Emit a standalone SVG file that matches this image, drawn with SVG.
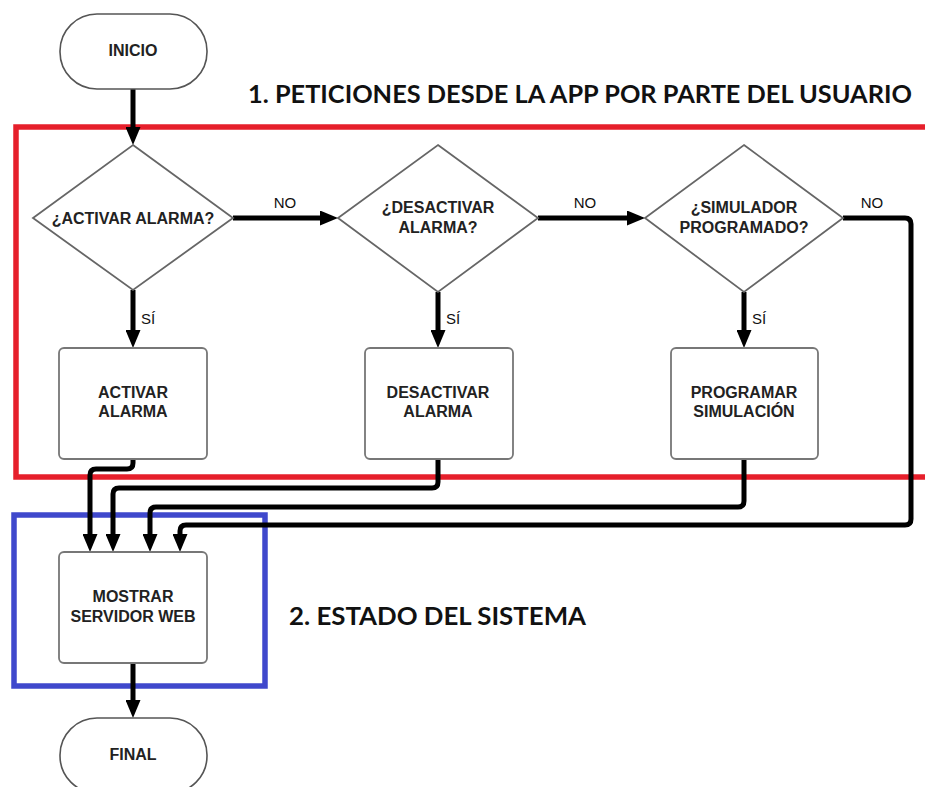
<svg xmlns="http://www.w3.org/2000/svg" width="925" height="787" viewBox="0 0 925 787">
<style>
.term{fill:#fff;stroke:#555;stroke-width:1.6}
.dec{fill:#fff;stroke:#666;stroke-width:1.8}
.proc{fill:#fff;stroke:#777;stroke-width:1.8}
.lbl{font-family:"Liberation Sans",Arial,sans-serif;font-weight:bold;font-size:16px;fill:#222;text-anchor:middle}
.edge{font-family:"Liberation Sans",Arial,sans-serif;font-size:15px;fill:#111}
.conn path{fill:none;stroke:#000;stroke-width:5}
.title{font-family:Lato,"Open Sans",sans-serif;font-weight:bold;font-size:25px;fill:#111}
</style>
<defs>
<marker id="ah" markerUnits="userSpaceOnUse" markerWidth="18" markerHeight="15" viewBox="0 0 18 15" refX="4" refY="7.5" orient="auto">
<path d="M0,0 L18,7.5 L0,15 z" fill="#000"/>
</marker>
</defs>
<rect width="925" height="787" fill="#fff"/>
<g id="frames">
<rect x="16" y="127" width="920" height="350" fill="none" stroke="#e61f2b" stroke-width="5.5"/>
<rect x="14" y="515" width="251" height="171" fill="none" stroke="#3f48cc" stroke-width="5.5"/>
</g>
<g class="conn" id="connectors">
<path d="M133,89 V131" marker-end="url(#ah)"/>
<path d="M233,218 H324" marker-end="url(#ah)"/>
<path d="M538,218 H631" marker-end="url(#ah)"/>
<path d="M843,218 H905 Q911,218 911,224 V519 Q911,525 905,525 H186 Q180,525 180,531 V538" marker-end="url(#ah)"/>
<path d="M133,290 V334" marker-end="url(#ah)"/>
<path d="M438,292 V334" marker-end="url(#ah)"/>
<path d="M744,292 V334" marker-end="url(#ah)"/>
<path d="M133,459 V463 Q133,469 127,469 H96 Q90,469 90,475 V538" marker-end="url(#ah)"/>
<path d="M438,459 V482 Q438,488 432,488 H119 Q113,488 113,494 V538" marker-end="url(#ah)"/>
<path d="M744,459 V501 Q744,507 738,507 H156 Q150,507 150,513 V538" marker-end="url(#ah)"/>
<path d="M133,663 V704" marker-end="url(#ah)"/>
</g>
<g id="edge-labels">
<text class="edge" x="285" y="208" text-anchor="middle">NO</text>
<text class="edge" x="585" y="208" text-anchor="middle">NO</text>
<text class="edge" x="872" y="208" text-anchor="middle">NO</text>
<text class="edge" x="141" y="324">SÍ</text>
<text class="edge" x="446" y="324">SÍ</text>
<text class="edge" x="752" y="324">SÍ</text>
</g>
<g id="inicio">
<rect class="term" x="60" y="14" width="147" height="75" rx="37" ry="37"/>
<text class="lbl" x="133" y="56">INICIO</text>
</g>
<g id="d-activar">
<polygon class="dec" points="133,145 233,218 133,290 33,218"/>
<text class="lbl" x="133" y="224">¿ACTIVAR ALARMA?</text>
</g>
<g id="d-desactivar">
<polygon class="dec" points="438,145 538,218 438,292 338,218"/>
<text class="lbl" x="438" y="213">¿DESACTIVAR</text>
<text class="lbl" x="438" y="233">ALARMA?</text>
</g>
<g id="d-simulador">
<polygon class="dec" points="744,145 843,218 744,292 645,218"/>
<text class="lbl" x="744" y="213">¿SIMULADOR</text>
<text class="lbl" x="744" y="233">PROGRAMADO?</text>
</g>
<g id="p-activar">
<rect class="proc" x="59" y="348" width="148" height="111" rx="5"/>
<text class="lbl" x="133" y="398">ACTIVAR</text>
<text class="lbl" x="133" y="417">ALARMA</text>
</g>
<g id="p-desactivar">
<rect class="proc" x="365" y="348" width="148" height="111" rx="5"/>
<text class="lbl" x="438" y="398">DESACTIVAR</text>
<text class="lbl" x="438" y="417">ALARMA</text>
</g>
<g id="p-programar">
<rect class="proc" x="671" y="348" width="147" height="111" rx="5"/>
<text class="lbl" x="744" y="398">PROGRAMAR</text>
<text class="lbl" x="744" y="417">SIMULACIÓN</text>
</g>
<g id="p-mostrar">
<rect class="proc" x="59" y="552" width="148" height="111" rx="5"/>
<text class="lbl" x="133" y="602">MOSTRAR</text>
<text class="lbl" x="133" y="622">SERVIDOR WEB</text>
</g>
<g id="final">
<rect class="term" x="60" y="718" width="147" height="75" rx="37" ry="37"/>
<text class="lbl" x="133" y="760">FINAL</text>
</g>
<g id="titles">
<text class="title" x="248" y="103" textLength="664" lengthAdjust="spacingAndGlyphs">1. PETICIONES DESDE LA APP POR PARTE DEL USUARIO</text>
<text class="title" x="289" y="625" textLength="297" lengthAdjust="spacingAndGlyphs">2. ESTADO DEL SISTEMA</text>
</g>
</svg>
